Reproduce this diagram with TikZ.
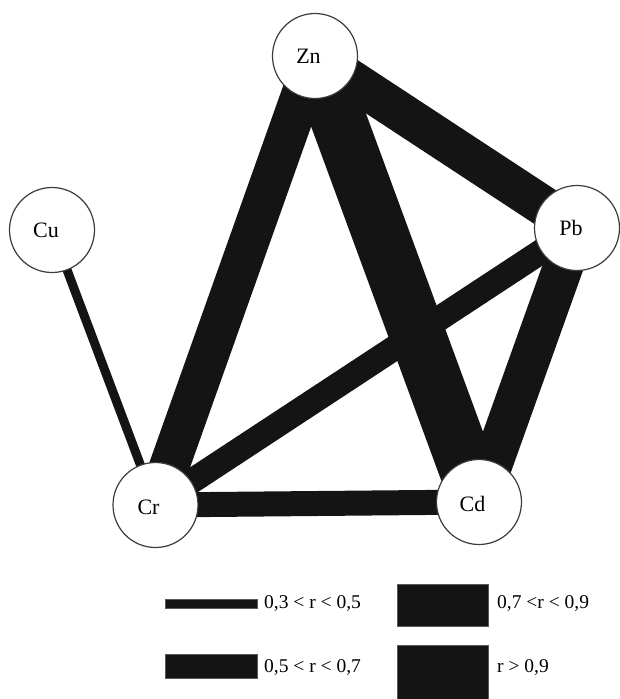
\documentclass[tikz,border=0pt]{standalone}
\usepackage{fontspec}
\setmainfont{Liberation Serif}
\definecolor{band}{RGB}{20,20,20}
\definecolor{rim}{RGB}{60,60,60}
\begin{document}
\begin{tikzpicture}[x=1pt,y=-1pt,
  elem/.style={circle,draw=rim,line width=1.2pt,fill=white,minimum size=85pt,inner sep=0pt},
  elemtext/.style={inner sep=0pt,font=\fontsize{22}{26}\selectfont},
  link/.style={draw=band,line cap=butt},
  wA/.style={link,line width=9pt},
  wB/.style={link,line width=25pt},
  wC/.style={link,line width=40pt},
  wD/.style={link,line width=56pt},
  key/.style={fill=band,draw=black!65,line width=0.6pt},
  keytext/.style={anchor=west,inner sep=0pt,font=\fontsize{19.5}{23}\selectfont}]
\useasboundingbox (0,0) rectangle (619,699);

% element positions
\coordinate (pzn) at (315,56);
\coordinate (pcu) at (52,230);
\coordinate (ppb) at (577,228);
\coordinate (pcr) at (155.5,505);
\coordinate (pcd) at (479,502);

% correlation bands, width by strength
\draw[wA] (pcu) -- (pcr);
\draw[wB] (pcr) -- (pcd);
\draw[wB] (pcr) -- (ppb);
\draw[wC] (pcr) -- (pzn);
\draw[wC] (pzn) -- (ppb);
\draw[wC] (ppb) -- (pcd);
\draw[wD] (pzn) -- (pcd);

% element circles
\node[elem] (zn) at (pzn) {};
\node[elem] (cu) at (pcu) {};
\node[elem] (pb) at (ppb) {};
\node[elem] (cr) at (pcr) {};
\node[elem] (cd) at (pcd) {};
\node[elemtext] (znt) at ([xshift=-6.5pt]zn.center) {Zn};
\node[elemtext] (cut) at ([xshift=-6pt]cu.center) {Cu};
\node[elemtext] (pbt) at ([xshift=-6pt]pb.center) {Pb};
\node[elemtext] (crt) at ([xshift=-7pt,yshift=-2pt]cr.center) {Cr};
\node[elemtext] (cdt) at ([xshift=-6.5pt,yshift=-2pt]cd.center) {Cd};

% legend
\draw[key] (165,599) rectangle (257,608);
\draw[key] (165,654) rectangle (257,678);
\draw[key] (397,584) rectangle (488,626);
\draw[key] (397,645) rectangle (488,702);
\node[keytext] (k1) at (264,604) {0,3 < r < 0,5};
\node[keytext] (k2) at (264,668) {0,5 < r < 0,7};
\node[keytext] (k3) at (497,604) {0,7 <r < 0,9};
\node[keytext] (k4) at (497,668) {r > 0,9};
\end{tikzpicture}
\end{document}
